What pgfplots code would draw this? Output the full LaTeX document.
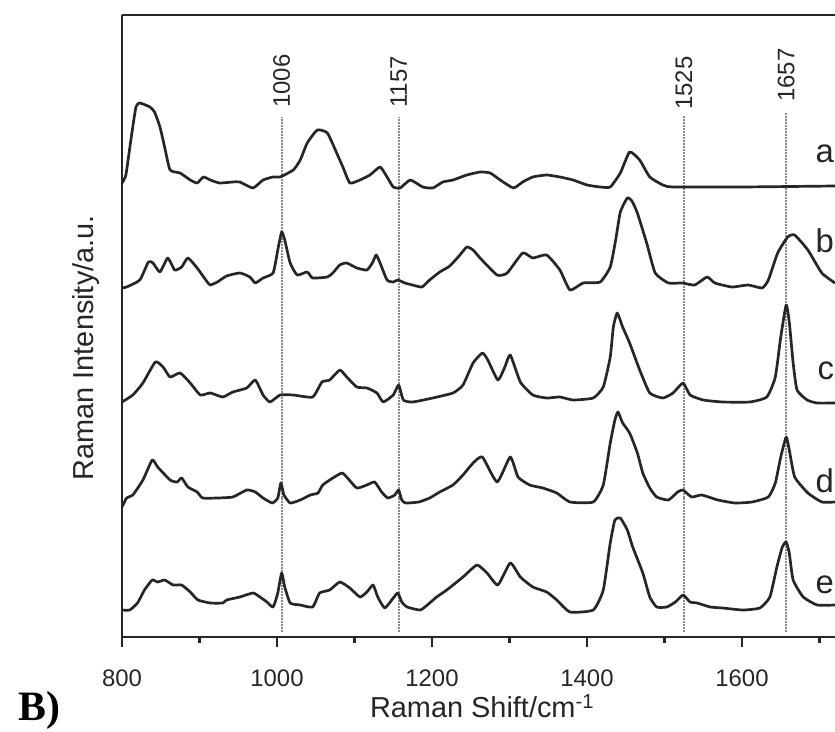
\documentclass[border=0pt]{standalone}
\usepackage{pgfplots}
\pgfplotsset{compat=1.18}
\usepackage{fontspec}
\setmainfont{Liberation Sans}
\newfontfamily\serifbold{Liberation Serif}
\begin{document}
\begin{tikzpicture}
\useasboundingbox (-122bp,-95bp) rectangle (713bp,637bp);
\begin{axis}[
  at={(0,0)}, anchor=south west,
  scale only axis, width=713bp, height=622bp,
  xmin=800, xmax=1720, ymin=0, ymax=622,
  axis x line*=box, axis y line*=left,
  axis line style={line width=2.6pt, black!85},
  xtick={800,1000,1200,1400,1600},
  minor xtick={900,1100,1300,1500,1700},
  xtick pos=bottom,
  ytick=\empty,
  tick align=outside,
  major tick length=10bp, minor tick length=6bp,
  every tick/.style={line width=2.4pt, black!85},
  /pgf/number format/assume math mode=true,
  /pgf/number format/1000 sep={},
  xticklabel style={font=\fontsize{24}{24}\selectfont, text=black!85, yshift=-19bp},
  xlabel={Raman Shift/cm\textsuperscript{-1}},
  xlabel style={font=\fontsize{29}{29}\selectfont, text=black!85, at={(axis description cs:0.505,-0.1302)}, anchor=base},
  ylabel={Raman Intensity/a.u.},
  ylabel style={font=\fontsize{29}{29}\selectfont, text=black!85, at={(axis description cs:-0.0393,0.465)}, anchor=base},
  clip=false,
  every axis plot/.append style={no marks, line join=round, smooth, tension=0.3},
]
% reference lines
\addplot[densely dotted, black!45, line width=2pt, sharp plot] coordinates {(1006,5) (1006,520)};
\addplot[densely dotted, black!45, line width=2pt, sharp plot] coordinates {(1157,5) (1157,520)};
\addplot[densely dotted, black!45, line width=2pt, sharp plot] coordinates {(1525,5) (1525,522)};
\addplot[densely dotted, black!45, line width=2pt, sharp plot] coordinates {(1657,5) (1657,524)};
% a
\addplot[black!85, line width=2.7pt] coordinates {
(800,454)(805,462)(812,500)(818,530)(823,534)(836,530)(842,525)(849,510)(855,490)(862,467)(875,464)(888,457)(897,454)(905,460)(914,457)(926,454)(943,455)(952,455)(969,449)(982,457)(995,460)(1004,460)(1021,467)(1030,477)(1039,494)(1052,507)(1065,504)(1077,484)(1085,470)(1094,454)(1107,457)(1120,462)(1133,470)(1142,460)(1150,450)(1159,449)(1172,457)(1188,450)(1201,449)(1214,455)(1227,457)(1245,462)(1262,465)(1275,464)(1288,457)(1305,449)(1317,455)(1330,460)(1348,462)(1365,460)(1382,457)(1400,452)(1417,450)(1430,450)(1443,464)(1455,485)(1468,477)(1481,460)(1498,452)(1511,450)(1600,450)(1720,451)};
% b
\addplot[black!85, line width=2.7pt] coordinates {
(800,349)(806,350)(823,357)(834,375)(840,374)(849,365)(859,379)(868,367)(877,370)(885,379)(897,369)(910,355)(914,352)(923,355)(935,361)(952,364)(965,360)(972,354)(982,359)(995,364)(1001,387)(1006,405)(1010,397)(1017,374)(1026,362)(1039,365)(1046,359)(1065,360)(1072,364)(1081,372)(1090,374)(1103,369)(1116,367)(1123,374)(1128,382)(1133,374)(1142,357)(1150,355)(1156,357)(1165,354)(1175,352)(1187,350)(1197,357)(1210,365)(1223,371)(1236,382)(1245,390)(1253,387)(1262,379)(1284,362)(1297,364)(1317,384)(1330,379)(1348,382)(1365,367)(1378,347)(1395,354)(1417,355)(1430,370)(1437,397)(1443,425)(1452,439)(1458,436)(1465,424)(1477,394)(1488,364)(1505,354)(1523,354)(1539,352)(1555,360)(1565,354)(1587,350)(1608,352)(1626,349)(1634,357)(1646,384)(1659,400)(1668,402)(1685,387)(1703,364)(1720,354)};
% c
\addplot[black!85, line width=2.7pt] coordinates {
(800,235)(814,242)(827,254)(843,275)(853,270)(862,260)(875,264)(888,254)(901,242)(914,244)(930,240)(943,245)(961,249)(972,257)(982,242)(991,235)(1004,242)(1021,242)(1046,240)(1058,255)(1068,257)(1081,267)(1090,260)(1103,250)(1116,249)(1129,244)(1137,235)(1150,242)(1157,252)(1163,237)(1175,235)(1201,239)(1227,244)(1240,252)(1253,274)(1265,284)(1272,277)(1285,257)(1294,270)(1301,282)(1314,255)(1330,242)(1348,239)(1365,240)(1382,237)(1408,239)(1421,250)(1430,280)(1434,310)(1439,324)(1446,310)(1455,294)(1468,267)(1481,244)(1498,239)(1511,244)(1524,254)(1533,242)(1550,237)(1575,235)(1610,235)(1632,240)(1643,260)(1650,300)(1657,332)(1661,315)(1666,274)(1671,247)(1684,237)(1697,234)(1720,234)};
% d
\addplot[black!85, line width=2.7pt] coordinates {
(800,130)(806,139)(814,142)(827,157)(839,177)(846,170)(862,157)(871,155)(877,159)(885,150)(897,145)(904,139)(923,139)(943,140)(961,147)(972,145)(982,139)(994,134)(1001,139)(1005,154)(1009,142)(1017,134)(1030,137)(1043,142)(1053,144)(1059,152)(1072,159)(1084,164)(1091,159)(1103,149)(1116,152)(1126,155)(1135,145)(1143,139)(1152,142)(1157,147)(1161,137)(1166,134)(1183,135)(1197,139)(1210,145)(1227,152)(1240,162)(1253,174)(1265,180)(1284,155)(1301,180)(1311,160)(1326,152)(1343,149)(1361,144)(1378,135)(1408,135)(1421,152)(1430,194)(1436,217)(1440,225)(1446,214)(1455,204)(1465,184)(1472,164)(1481,149)(1490,140)(1505,137)(1517,145)(1524,147)(1535,140)(1548,142)(1569,137)(1591,134)(1613,135)(1634,140)(1643,154)(1650,180)(1657,200)(1661,187)(1668,160)(1685,144)(1703,135)(1720,135)};
% e
\addplot[black!85, line width=2.7pt] coordinates {
(800,27)(810,27)(820,34)(829,47)(839,57)(846,55)(855,57)(866,52)(877,52)(888,45)(898,37)(914,34)(930,34)(935,37)(952,40)(969,44)(978,40)(987,35)(995,30)(1001,44)(1006,64)(1010,50)(1017,34)(1030,32)(1046,30)(1055,44)(1068,47)(1081,55)(1094,49)(1107,40)(1116,45)(1124,52)(1130,40)(1139,29)(1150,39)(1156,44)(1161,35)(1168,30)(1185,27)(1197,34)(1206,40)(1219,47)(1240,60)(1258,72)(1271,64)(1285,52)(1301,74)(1314,60)(1330,50)(1348,45)(1361,37)(1378,25)(1408,27)(1421,47)(1430,94)(1436,117)(1443,119)(1452,107)(1459,90)(1472,64)(1481,40)(1490,30)(1503,30)(1514,35)(1524,42)(1533,35)(1542,34)(1559,30)(1575,29)(1601,27)(1623,29)(1636,40)(1645,70)(1652,90)(1657,95)(1661,84)(1666,57)(1679,40)(1697,32)(1720,32)};
% peak labels
\node[rotate=90, anchor=west, inner sep=0pt, font=\fontsize{24}{24}\selectfont, text=black!85] at (axis cs:1006,529) {1006};
\node[rotate=90, anchor=west, inner sep=0pt, font=\fontsize{24}{24}\selectfont, text=black!85] at (axis cs:1157,529) {1157};
\node[rotate=90, anchor=west, inner sep=0pt, font=\fontsize{24}{24}\selectfont, text=black!85] at (axis cs:1525,527) {1525};
\node[rotate=90, anchor=west, inner sep=0pt, font=\fontsize{24}{24}\selectfont, text=black!85] at (axis cs:1657,535) {1657};
% curve labels
\node[anchor=base east, inner sep=0pt, font=\fontsize{33}{33}\selectfont, text=black!85] at (axis cs:1719,474) {a};
\node[anchor=base east, inner sep=0pt, font=\fontsize{33}{33}\selectfont, text=black!85] at (axis cs:1719,384) {b};
\node[anchor=base east, inner sep=0pt, font=\fontsize{33}{33}\selectfont, text=black!85] at (axis cs:1719,257) {c};
\node[anchor=base east, inner sep=0pt, font=\fontsize{33}{33}\selectfont, text=black!85] at (axis cs:1719,144) {d};
\node[anchor=base east, inner sep=0pt, font=\fontsize{33}{33}\selectfont, text=black!85] at (axis cs:1719,44) {e};
\end{axis}
\node[anchor=base west, inner sep=0pt, font=\serifbold\bfseries\fontsize{42}{42}\selectfont] at (-104bp,-83bp) {B)};
\end{tikzpicture}
\end{document}
